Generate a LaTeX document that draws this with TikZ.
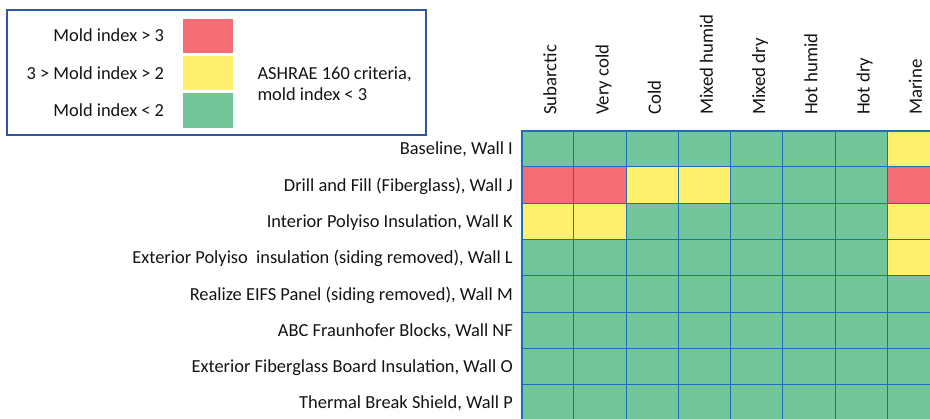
\documentclass[tikz,border=0pt]{standalone}
\usepackage{fontspec}
\setmainfont{Carlito}
\definecolor{cg}{RGB}{115,198,154}
\definecolor{cr}{RGB}{244,108,116}
\definecolor{cy}{RGB}{255,240,110}
\definecolor{gridblue}{RGB}{30,110,185}
\definecolor{legblue}{RGB}{47,85,160}
\definecolor{txt}{RGB}{20,20,20}
\begin{document}
\begin{tikzpicture}[x=1pt,y=-1pt,
  cell/.style={draw=gridblue,line width=1pt,minimum width=52.23pt,minimum height=36.3pt,inner sep=0pt,outer sep=0pt,anchor=north west},
  swatch/.style={minimum width=49.7pt,minimum height=34.4pt,inner sep=0pt,outer sep=0pt},
  rowlab/.style={anchor=base east,inner sep=0pt,font=\fontsize{18.4}{22}\selectfont,text=txt},
  leglab/.style={anchor=base east,inner sep=0pt,font=\fontsize{18.4}{22}\selectfont,text=txt},
  hdr/.style={rotate=90,anchor=base west,inner sep=0pt,font=\fontsize{18.8}{22}\selectfont,text=txt}]
\useasboundingbox (0,0) rectangle (930,419);
\fill[white] (0,0) rectangle (930,419);
\begin{scope}
\clip (0,0) rectangle (930,419);
% legend
\draw[legblue,line width=2pt] (7.3,10) rectangle (426,135);
\node[swatch,fill=cr] (sr) at (207.8,36.2) {};
\node[swatch,fill=cy] (sy) at (207.8,73.3) {};
\node[swatch,fill=cg] (sg) at (207.8,110.5) {};
\node[leglab] (lr) at (164.3,42) {Mold index > 3};
\node[leglab] (ly) at (164.3,79.1) {3 > Mold index > 2};
\node[leglab] (lg) at (164.3,116.3) {Mold index < 2};
\node[leglab,anchor=base west] (la1) at (257.3,79.5) {ASHRAE 160 criteria,};
\node[leglab,anchor=base west] (la2) at (257.3,100.5) {mold index < 3};
% headers
\foreach \h [count=\c from 0] in {Subarctic,Very cold,Cold,Mixed humid,Mixed dry,Hot humid,Hot dry,Marine}{
  \node[hdr] (h\c) at ({521.7+52.23*\c+26.1+8.5},115) {\h};
}
% grid
\foreach \r/\lab/\cols in {
  0/{Baseline, Wall I}/{cg,cg,cg,cg,cg,cg,cg,cy},
  1/{Drill and Fill (Fiberglass), Wall J}/{cr,cr,cy,cy,cg,cg,cg,cr},
  2/{Interior Polyiso Insulation, Wall K}/{cy,cy,cg,cg,cg,cg,cg,cy},
  3/{Exterior Polyiso\ \ insulation (siding removed), Wall L}/{cg,cg,cg,cg,cg,cg,cg,cy},
  4/{Realize EIFS Panel (siding removed), Wall M}/{cg,cg,cg,cg,cg,cg,cg,cg},
  5/{ABC Fraunhofer Blocks, Wall NF}/{cg,cg,cg,cg,cg,cg,cg,cg},
  6/{Exterior Fiberglass Board Insulation, Wall O}/{cg,cg,cg,cg,cg,cg,cg,cg},
  7/{Thermal Break Shield, Wall P}/{cg,cg,cg,cg,cg,cg,cg,cg}}{
  \node[rowlab] (r\r) at (513,{130.7+36.3*\r+18.15+6}) {\lab};
  \foreach \col [count=\c from 0] in \cols {
    \node[cell,fill=\col] (c\r-\c) at ({521.7+52.23*\c},{130.7+36.3*\r}) {};
  }
}
\draw[gridblue,line width=2pt] (c7-0.south west) -- (c0-0.north west) -- (c0-7.north east);
\end{scope}
\end{tikzpicture}
\end{document}
